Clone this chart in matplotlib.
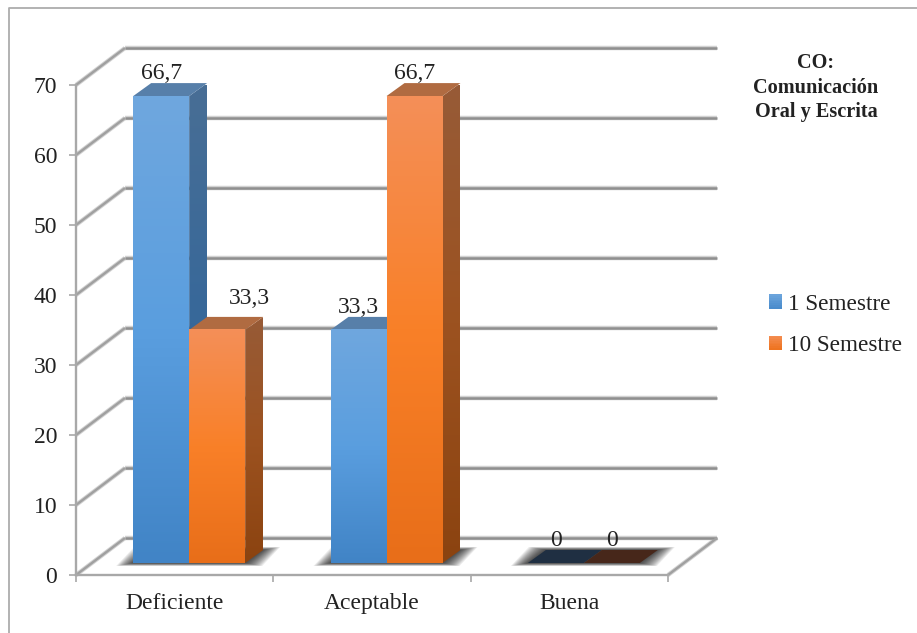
"""
3D-looking clustered bars for the CO chart, drawn on a plain 2D axes.
"""

import matplotlib
matplotlib.use('Agg')
import matplotlib.pyplot as plt
import numpy as np
from matplotlib.colors import LinearSegmentedColormap, to_rgb
from matplotlib.legend_handler import HandlerPatch
from matplotlib.patches import Patch, Polygon, Rectangle
from matplotlib.transforms import Affine2D

categories = ['Deficiente', 'Aceptable', 'Buena']
series_names = ['1 Semestre', '10 Semestre']
semestre_1 = [66.7, 33.3, 0]
semestre_10 = [33.3, 66.7, 0]
value_labels_1 = ['66,7', '33,3', '0']
value_labels_10 = ['33,3', '66,7', '0']
y_ticks = [0, 10, 20, 30, 40, 50, 60, 70]
title_lines = 'CO:\nComunicación\nOral y Escrita'

# Pixel layout of the reference
W, H = 917, 633
LEFT, RIGHT, BOTTOM, TOP = 76, 668, 575, 85
PX_X = (RIGHT - LEFT) / 3
PX_Y = (BOTTOM - TOP) / 70

plt.rcParams['font.family'] = ['Liberation Serif', 'DejaVu Serif']
TEXT = '#222222'
FS = 17.0

# Front, side and top shades of each series
STYLES = [
    {'front': ['#6fa7de', '#5a9edf', '#4184c6'], 'side': ['#486e95', '#37689a', '#2b5e90'],
     'top': '#577fa9', 'flat': '#1f2f42', 'legend': ['#6ba4dc', '#4a8ccc']},
    {'front': ['#f48f58', '#f98028', '#e86e19'], 'side': ['#975b37', '#9c5220', '#8b4310'],
     'top': '#b06b41', 'flat': '#47271a', 'legend': ['#f48c50', '#ee7420']},
]

fig = plt.figure(figsize=(W / 100, H / 100), dpi=100, facecolor='white')
ax = fig.add_axes([LEFT / W, 1 - BOTTOM / H, (RIGHT - LEFT) / W, (BOTTOM - TOP) / H])
ax.patch.set_visible(False)

# Outer frame of the picture
fig.add_artist(plt.Line2D([9 / W, 9 / W, 1], [0, 1 - 8 / H, 1 - 8 / H],
                          color='#adadad', lw=1.3, transform=fig.transFigure))

# Back wall, floor and the diagonals joining them
wall_dx = 49 / PX_X
wall_dy = 37 / PX_Y


def wall_line(xs, ys, color='#8f8f8f', lw=1.8):
    ax.plot(xs, ys, color='#d2d2d2', lw=lw + 1.4, clip_on=False, zorder=1, solid_capstyle='butt')
    ax.plot(xs, ys, color=color, lw=lw, clip_on=False, zorder=1.1, solid_capstyle='butt')


for v in y_ticks:
    wall_line([wall_dx, 3 + wall_dx], [v + wall_dy, v + wall_dy])
    wall_line([0, wall_dx], [v, v + wall_dy], color='#a0a0a0', lw=1.7)
wall_line([3, 3 + wall_dx], [0, wall_dy], color='#a0a0a0', lw=1.7)

# Bars sit a little way into the floor
bar_trans = ax.transData + Affine2D().translate(14.5, 12)
bar_w = 56 / PX_X
depth_x = 18 / PX_X
depth_y = 13 / PX_Y


def gradient_image(colors, box, clip=None, zorder=3):
    cmap = LinearSegmentedColormap.from_list('shade', colors)
    grad = np.linspace(0, 1, 128).reshape(-1, 1)
    im = ax.imshow(grad, cmap=cmap, extent=box, origin='upper', aspect='auto',
                   transform=bar_trans, zorder=zorder, clip_on=False, interpolation='bilinear')
    if clip is not None:
        im.set_clip_on(True)
        im.set_clip_path(clip)
    return im


def draw_shadow(x0, x1):
    layers = 14
    for i in range(layers):
        mx = 17 * (1 - i / layers) / PX_X
        my = 3 * (1 - i / layers) / PX_Y
        pts = [(x0 - mx, -my), (x1 + mx, -my),
               (x1 + depth_x + mx, depth_y + my), (x0 + depth_x - mx, depth_y + my)]
        ax.add_patch(Polygon(pts, closed=True, facecolor='black', edgecolor='none', alpha=0.075,
                             transform=bar_trans, clip_on=False, zorder=2))


def draw_bar(x0, value, style, zorder):
    x1 = x0 + bar_w
    top_pts = [(x0, value), (x1, value), (x1 + depth_x, value + depth_y), (x0 + depth_x, value + depth_y)]
    if value == 0:
        ax.add_patch(Polygon(top_pts, closed=True, facecolor=style['flat'], edgecolor='none',
                             transform=bar_trans, clip_on=False, zorder=zorder))
        return
    side_pts = [(x1, 0), (x1 + depth_x, depth_y), (x1 + depth_x, value + depth_y), (x1, value)]
    side = Polygon(side_pts, closed=True, facecolor='none', edgecolor='none',
                   transform=bar_trans, clip_on=False, zorder=zorder)
    ax.add_patch(side)
    gradient_image(style['side'], [x1, x1 + depth_x, 0, value + depth_y], clip=side, zorder=zorder)
    ax.add_patch(Polygon(top_pts, closed=True, facecolor=style['top'], edgecolor='none',
                         transform=bar_trans, clip_on=False, zorder=zorder + 0.1))
    gradient_image(style['front'], [x0, x1, 0, value], zorder=zorder + 0.2)


for i in range(len(categories)):
    draw_shadow(i + 0.5 - bar_w, i + 0.5 + bar_w)

for i in range(len(categories)):
    draw_bar(i + 0.5 - bar_w, semestre_1[i], STYLES[0], 3 + i)
    draw_bar(i + 0.5, semestre_10[i], STYLES[1], 3.5 + i)

# Value labels: placed over the bars, the 33,3 of Deficiente was moved by hand in the original
for i in range(len(categories)):
    ax.annotate(value_labels_1[i], (i + 0.5 - bar_w / 2, semestre_1[i]), xycoords=bar_trans,
                xytext=(0, 17), textcoords='offset pixels', ha='center', va='baseline',
                fontsize=FS, color=TEXT, zorder=10, annotation_clip=False)
    nudge = (32, 26) if i == 0 else (0, 17)
    ax.annotate(value_labels_10[i], (i + 0.5 + bar_w / 2, semestre_10[i]), xycoords=bar_trans,
                xytext=nudge, textcoords='offset pixels', ha='center', va='baseline',
                fontsize=FS, color=TEXT, zorder=10, annotation_clip=False)

# Axes
ax.set_xlim(0, 3)
ax.set_ylim(0, 70)
for name in ['top', 'right']:
    ax.spines[name].set_visible(False)
for name in ['left', 'bottom']:
    ax.spines[name].set_color('#a8a8a8')
    ax.spines[name].set_linewidth(1.7)
ax.set_yticks(y_ticks)
ax.set_xticks([0, 1, 2, 3])
ax.set_xticklabels([])
ax.set_xticks([0.5, 1.5, 2.5], labels=categories, minor=True)
ax.tick_params(axis='x', which='major', length=5, width=1.2, color='#a8a8a8')
ax.tick_params(axis='x', which='minor', length=0, pad=13, labelsize=FS, labelcolor=TEXT)
ax.tick_params(axis='y', length=5, width=1.2, color='#a8a8a8', pad=8.6, labelsize=FS, labelcolor=TEXT)

# Title block and legend on the right
fig.text(816 / W, 1 - 88 / H, title_lines, ha='center', va='center', multialignment='center',
         fontsize=14.6, fontweight='bold', color=TEXT, linespacing=1.3)


class GradientSquare(HandlerPatch):
    # legend square drawn as thin strips so it keeps the bars' vertical shading
    def create_artists(self, legend, orig_handle, xdescent, ydescent, width, height, fontsize, trans):
        top, bottom = [np.array(to_rgb(c)) for c in orig_handle.shades]
        strips = 8
        artists = []
        for k in range(strips):
            shade = top + (bottom - top) * k / (strips - 1)
            artists.append(Rectangle((-xdescent, -ydescent + height * (strips - 1 - k) / strips),
                                     width, height / strips + 0.2, facecolor=shade,
                                     edgecolor='none', transform=trans))
        return artists


handles = []
for k in range(2):
    patch = Patch(label=series_names[k])
    patch.shades = STYLES[k]['legend']
    handles.append(patch)
fig.legend(handles=handles, loc='center left', bbox_to_anchor=(769 / W, 1 - 325 / H), frameon=False,
           fontsize=16.7, labelcolor=TEXT, borderpad=0, borderaxespad=0, handlelength=0.56,
           handleheight=0.56, handletextpad=0.24, labelspacing=0.88,
           handler_map={Patch: GradientSquare()})

fig.savefig('out.png', dpi=100, facecolor='white')
plt.close(fig)
